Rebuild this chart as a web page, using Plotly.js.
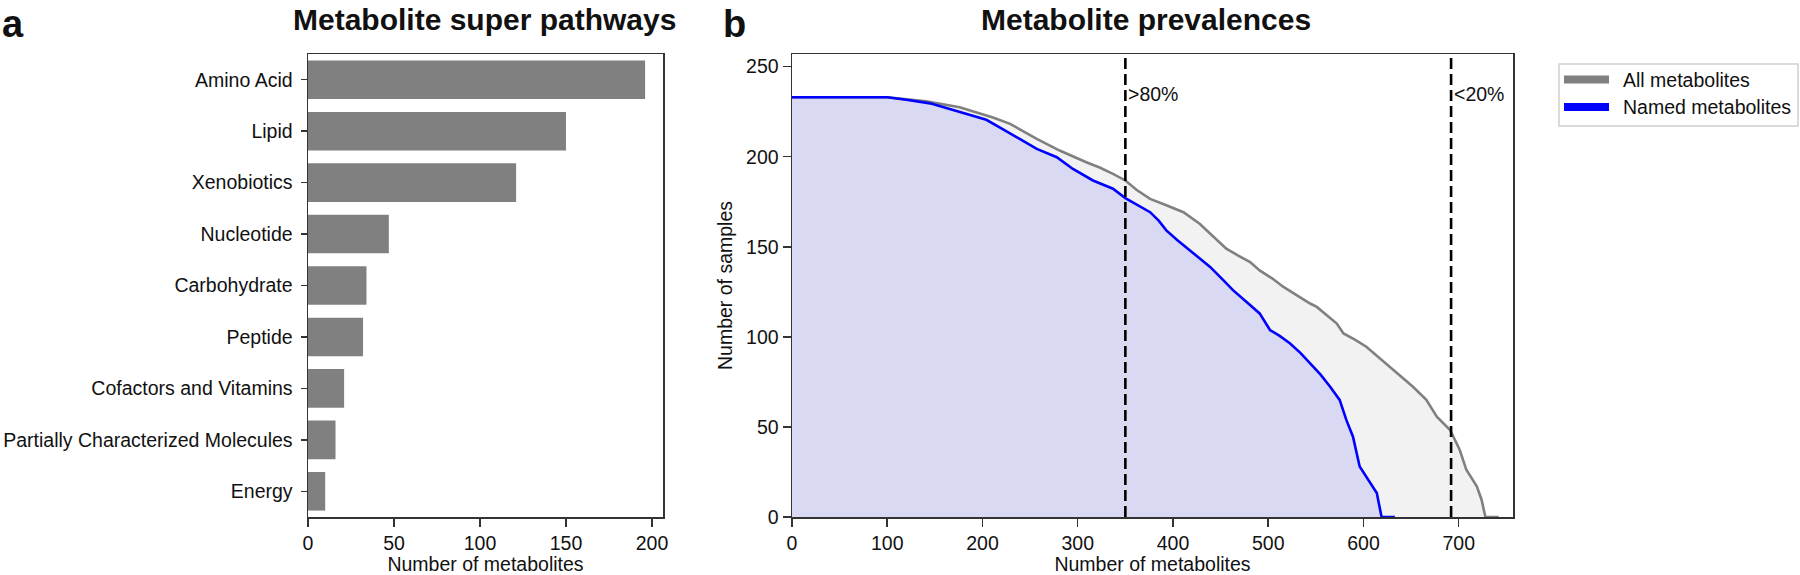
<!DOCTYPE html>
<html>
<head>
<meta charset="utf-8">
<script src="https://cdn.plot.ly/plotly-3.0.1.min.js"></script>
<style>html,body{margin:0;padding:0;background:#fff;}#chart{width:1800px;height:575px;}</style>
</head>
<body>
<div id="chart"></div>
<script>
// ---- Panel a data ----
const categories = ["Amino Acid","Lipid","Xenobiotics","Nucleotide","Carbohydrate","Peptide","Cofactors and Vitamins","Partially Characterized Molecules","Energy"];
const counts = [196,150,121,47,34,32,21,16,10];

// ---- Panel b data (sorted prevalence curves) ----
const allX   = [0,100,141,176,211,229,257,281,309,323,337,350,362,376,393,411,428,441,456,469,481,491,504,516,530,544,551,562,572,579,591,603,617,631,642,652,666,677,691,701,708,719,724,728,742];
const allY   = [233,233,230.7,227.4,221.8,218.2,209.9,203.4,196.9,194,190.5,186.8,181.5,176.6,173,169.2,162.8,156.5,148.9,145,141.5,136.9,132.5,127.7,123,118.5,116.6,112,107.4,101.9,98.5,94.5,88.2,81.6,77,72.3,65,55.7,48.3,37.3,26.2,17,9.6,0,0];
const namedX = [0,100,120,145,162,183,204,218,236,257,278,295,316,337,350,366,376,385,393,405,418,428,439,451,463,477,491,502,512,523,534,544,555,565,575,582,589,596,607,614,619,633];
const namedY = [233,233,231.6,229.6,227,223.7,220.5,216.3,210.7,204.3,199.7,193.2,186.8,182.2,177,172,169.2,164.5,159.1,153.5,148,143.5,138.8,132.5,125.9,119.5,113,103.7,100.5,96.3,91,85.3,79,72.3,65,53.9,44.6,28,18.8,13.3,0,0];
const seriesNames = ["All metabolites","Named metabolites"];
const thresholds = [350, 692];
const thresholdLabels = [">80%", "<20%"];

const FONT = "Liberation Sans, Arial, Helvetica, sans-serif";
const AX = '#333';
const W = 1800, H = 575, MT = 54, MB = 58;

const traces = [
  {type:'bar', orientation:'h', y:categories, x:counts, width:0.75,
   marker:{color:'#808080', line:{width:0}}, xaxis:'x', yaxis:'y', showlegend:false},
  {type:'scatter', mode:'lines', x:allX, y:allY, name:seriesNames[0], fill:'tozeroy',
   fillcolor:'rgba(128,128,128,0.1)', line:{color:'#808080', width:2.6}, xaxis:'x2', yaxis:'y2', showlegend:false},
  {type:'scatter', mode:'lines', x:namedX, y:namedY, name:seriesNames[1], fill:'tozeroy',
   fillcolor:'rgba(0,0,255,0.1)', line:{color:'#0000ff', width:2.6}, xaxis:'x2', yaxis:'y2', showlegend:false}
];

const axCommon = {showline:true, linecolor:AX, linewidth:1.5, mirror:true, showgrid:false, zeroline:false,
  ticks:'outside', tickcolor:AX, tickwidth:1.5, tickfont:{family:FONT, size:19.5, color:'#111'}};

// pixel -> paper helpers (paper spans the plot area inside margins)
const px = v => v / W;
const py = v => (H - MB - v) / (H - MT - MB);

const shapes = thresholds.map(t => ({type:'line', xref:'x2', yref:'y2 domain', x0:t, x1:t, y0:0, y1:1,
  line:{color:'#000', width:2.6, dash:'11px,5px'}}));

// legend box
shapes.push({type:'rect', xref:'paper', yref:'paper', x0:px(1559), x1:px(1798), y0:py(126), y1:py(64),
  line:{color:'#d0d0d0', width:1.5}, fillcolor:'rgba(255,255,255,0.8)', layer:'above'});
const legColors = ['#808080', '#0000ff'];
const legYs = [79.5, 107];
legColors.forEach((c, i) => shapes.push({type:'line', xref:'paper', yref:'paper', x0:px(1564), x1:px(1609),
  y0:py(legYs[i]), y1:py(legYs[i]), line:{color:c, width:8}}));

const annotations = [
  {text:'<b>a</b>', xref:'paper', yref:'paper', x:px(0), y:py(1), xanchor:'left', yanchor:'top', showarrow:false,
   font:{family:FONT, size:38, color:'#111'}},
  {text:'<b>b</b>', xref:'paper', yref:'paper', x:px(721), y:py(1), xanchor:'left', yanchor:'top', showarrow:false,
   font:{family:FONT, size:38, color:'#111'}},
  {text:'<b>Metabolite super pathways</b>', xref:'paper', yref:'paper', x:px(484), y:py(19), xanchor:'center', yanchor:'middle',
   showarrow:false, font:{family:FONT, size:30, color:'#111'}},
  {text:'<b>Metabolite prevalences</b>', xref:'paper', yref:'paper', x:px(1146), y:py(19), xanchor:'center', yanchor:'middle',
   showarrow:false, font:{family:FONT, size:30, color:'#111'}}
];
thresholds.forEach((t, i) => annotations.push({text:thresholdLabels[i], xref:'x2', yref:'y2', x:t, y:235,
  xanchor:'left', yanchor:'middle', xshift:1, showarrow:false, font:{family:FONT, size:19.5, color:'#111'}}));
seriesNames.forEach((n, i) => annotations.push({text:n, xref:'paper', yref:'paper', x:px(1621), y:py(legYs[i]),
  xanchor:'left', yanchor:'middle', showarrow:false, font:{family:FONT, size:19.5, color:'#111'}}));

const layout = {
  width:W, height:H, margin:{l:0, r:0, t:MT, b:MB},
  paper_bgcolor:'#fff', plot_bgcolor:'#fff', font:{family:FONT, size:19.5, color:'#111'},
  showlegend:false,
  xaxis: Object.assign({}, axCommon, {domain:[308/W, 663/W], range:[0, 206.4], dtick:50, tick0:0, ticklen:8,
    title:{text:'Number of metabolites', font:{family:FONT, size:19.5, color:'#111'}, standoff:6}}),
  yaxis: Object.assign({}, axCommon, {domain:[0,1], type:'category', range:[8.5, -0.5], ticklen:6, ticklabelstandoff:4}),
  xaxis2: Object.assign({}, axCommon, {domain:[792/W, 1513/W], range:[0, 757], dtick:100, tick0:0, ticklen:8, anchor:'y2',
    title:{text:'Number of metabolites', font:{family:FONT, size:19.5, color:'#111'}, standoff:6}}),
  yaxis2: Object.assign({}, axCommon, {domain:[0,1], range:[0, 257], dtick:50, tick0:0, ticklen:8, anchor:'x2',
    title:{text:'Number of samples', font:{family:FONT, size:19.5, color:'#111'}, standoff:8}}),
  shapes: shapes,
  annotations: annotations
};

Plotly.newPlot('chart', traces, layout, {displayModeBar:false, staticPlot:true});
</script>
</body>
</html>
